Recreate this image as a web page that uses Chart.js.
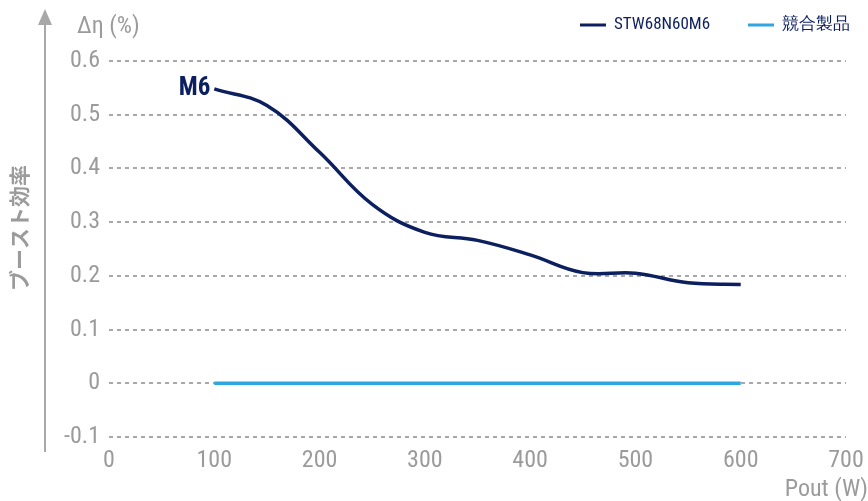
<!DOCTYPE html>
<html>
<head>
<meta charset="utf-8">
<script src="https://cdn.jsdelivr.net/npm/chart.js@4.4.1/dist/chart.umd.min.js"></script>
<style>
  html, body { margin: 0; padding: 0; background: #fff; }
  #wrap { width: 868px; height: 501px; }
</style>
</head>
<body>
<div id="wrap"><canvas id="boostChart" width="868" height="501"></canvas></div>
<script>
// Data
const powerW = [100, 150, 200, 250, 300, 350, 400, 450, 500, 550, 600];
const deltaM6 = [0.548, 0.517, 0.43, 0.333, 0.281, 0.266, 0.239, 0.206, 0.205, 0.187, 0.184];
const deltaCompetitor = [0, 0, 0, 0, 0, 0, 0, 0, 0, 0, 0];
const seriesLabels = ['STW68N60M6', '競合製品'];
const xTicks = [0, 100, 200, 300, 400, 500, 600, 700];

const COLORS = {
  navy: '#0c1f5e',
  sky: '#2ea7e0',
  grid: '#a8a8a8',
  text: '#9b9b9b',
};
const FONT = '"Liberation Sans Narrow", "Roboto Condensed", Roboto, sans-serif';
const JP_FONT = '"Noto Sans CJK JP", sans-serif';

// Axis arrow, titles, legend and the M6 tag
const decorations = {
  id: 'decorations',
  afterDraw(chart) {
    const c = chart.ctx;
    const xs = chart.scales.x, ys = chart.scales.y;
    c.save();

    // vertical arrow axis
    c.strokeStyle = COLORS.grid;
    c.fillStyle = COLORS.grid;
    c.lineWidth = 2;
    c.beginPath();
    c.moveTo(45, 452);
    c.lineTo(45, 22);
    c.stroke();
    c.beginPath();
    c.moveTo(45, 9);
    c.lineTo(38, 25);
    c.lineTo(52, 25);
    c.closePath();
    c.fill();

    // y title
    c.fillStyle = COLORS.text;
    c.font = 'bold 21px ' + JP_FONT;
    c.textAlign = 'center';
    c.textBaseline = 'middle';
    c.translate(19, 228);
    c.rotate(-Math.PI / 2);
    c.fillText('ブースト効率', 0, 0);
    c.setTransform(1, 0, 0, 1, 0, 0);

    // unit label
    c.font = '24px ' + FONT;
    c.textAlign = 'left';
    c.fillText('Δη (%)', 77, 27);

    // x title
    c.textAlign = 'right';
    c.fillText('Pout (W)', 868, 490);

    // legend
    const items = [
      { x: 580, color: COLORS.navy },
      { x: 748, color: COLORS.sky },
    ];
    c.font = '17px ' + FONT;
    c.textAlign = 'left';
    items.forEach((it, i) => {
      c.strokeStyle = it.color;
      c.lineWidth = 3;
      c.beginPath();
      c.moveTo(it.x, 25);
      c.lineTo(it.x + 26, 25);
      c.stroke();
      c.fillStyle = COLORS.navy;
      c.fillText(seriesLabels[i], it.x + 34, 25);
    });

    // M6 tag next to first point
    const px = xs.getPixelForValue(powerW[0]);
    const py = ys.getPixelForValue(deltaM6[0]);
    c.fillStyle = COLORS.navy;
    c.font = 'bold 25px ' + FONT;
    c.textAlign = 'right';
    c.fillText('M6', px - 4, py);

    c.restore();
  }
};

const ctx = document.getElementById('boostChart').getContext('2d');
new Chart(ctx, {
  type: 'line',
  data: {
    labels: powerW,
    datasets: [
      {
        label: seriesLabels[0],
        data: powerW.map((x, i) => ({ x, y: deltaM6[i] })),
        borderColor: COLORS.navy,
        borderWidth: 3.5,
        pointRadius: 0,
        tension: 0.4,
        fill: false,
      },
      {
        label: seriesLabels[1],
        data: powerW.map((x, i) => ({ x, y: deltaCompetitor[i] })),
        borderColor: COLORS.sky,
        borderWidth: 3.5,
        pointRadius: 0,
        fill: false,
      }
    ]
  },
  options: {
    responsive: false,
    animation: false,
    layout: { padding: { top: 61, right: 22, left: 0, bottom: 0 } },
    plugins: {
      legend: { display: false },
      tooltip: { enabled: false },
    },
    scales: {
      x: {
        type: 'linear',
        min: 0,
        max: 700,
        afterBuildTicks: (scale) => { scale.ticks = xTicks.map(v => ({ value: v })); },
        afterFit: (scale) => {
          scale.height = 64;
          scale.paddingLeft = 0;
          scale.paddingRight = 0;
        },
        grid: { display: false, drawTicks: false },
        border: { display: false },
        ticks: {
          color: COLORS.text,
          font: { family: FONT, size: 24 },
          padding: 10,
          maxRotation: 0,
        }
      },
      y: {
        min: -0.1,
        max: 0.6,
        afterFit: (scale) => {
          scale.width = 109;
          scale.paddingTop = 0;
          scale.paddingBottom = 0;
        },
        grid: {
          color: COLORS.grid,
          lineWidth: 2,
          drawTicks: false,
        },
        border: { display: false, dash: [4, 4] },
        ticks: {
          stepSize: 0.1,
          color: COLORS.text,
          font: { family: FONT, size: 24 },
          padding: 9,
          callback: v => Math.round(v * 10) / 10,
        }
      }
    }
  },
  plugins: [decorations]
});
</script>
</body>
</html>
